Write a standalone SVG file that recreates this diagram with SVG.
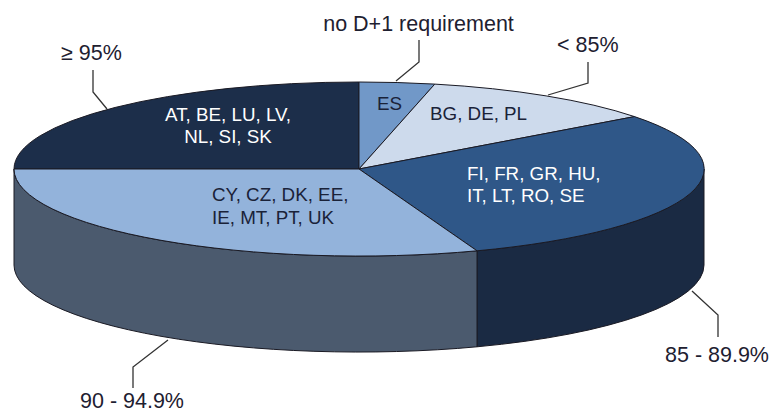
<svg xmlns="http://www.w3.org/2000/svg" width="774" height="414" viewBox="0 0 774 414">
<style>
.sl{stroke:#1a1a24;stroke-width:1;stroke-linejoin:round}
.lead{fill:none;stroke:#333;stroke-width:1.3}
.lbl{font-family:"Liberation Sans",Arial,sans-serif;font-size:21.5px;fill:#1e2030}
.in{font-family:"Liberation Sans",Arial,sans-serif;font-size:18.8px}
.dk{fill:#1a2238}
.wh{fill:#ffffff}
</style>
<rect width="774" height="414" fill="#ffffff"/>
<g id="sides">
<path class="sl" fill="#1a2a43" d="M704,169 A345,87 0 0 1 477,250.8 L477,346.8 A345,87 0 0 0 704,265 Z"/>
<path class="sl" fill="#4b5a6e" d="M477,250.8 A345,87 0 0 1 14,169 L14,265 A345,87 0 0 0 477,346.8 Z"/>
</g>
<g id="slice-at">
<path class="sl" fill="#1c2e4a" d="M359,169 L14,169 A345,87 0 0 1 359,82 Z"/>
<text class="in wh" x="228" y="121" text-anchor="middle">AT, BE, LU, LV,</text>
<text class="in wh" x="228" y="143" text-anchor="middle">NL, SI, SK</text>
</g>
<g id="slice-es">
<path class="sl" fill="#7198c8" d="M359,169 L359,82 A345,87 0 0 1 434.8,84.1 Z"/>
<text class="in dk" x="377" y="110">ES</text>
</g>
<g id="slice-bg">
<path class="sl" fill="#cddaec" d="M359,169 L434.8,84.1 A345,87 0 0 1 634.5,116.6 Z"/>
<text class="in dk" x="430" y="120">BG, DE, PL</text>
</g>
<g id="slice-fi">
<path class="sl" fill="#2f5788" d="M359,169 L634.5,116.6 A345,87 0 0 1 477,250.8 Z"/>
<text class="in wh" x="467" y="180">FI, FR, GR, HU,</text>
<text class="in wh" x="467" y="202">IT, LT, RO, SE</text>
</g>
<g id="slice-cy">
<path class="sl" fill="#93b3db" d="M359,169 L477,250.8 A345,87 0 0 1 14,169 Z"/>
<text class="in dk" x="212" y="201">CY, CZ, DK, EE,</text>
<text class="in dk" x="212" y="224">IE, MT, PT, UK</text>
</g>
<g id="connectors">
<polyline class="lead" points="93,70 93,92 107,109"/>
<polyline class="lead" points="419,40 419,62 396,81"/>
<polyline class="lead" points="588,62 588,83 548,95"/>
<polyline class="lead" points="692,291 718,315 718,337"/>
<polyline class="lead" points="168,340 133,367 133,388"/>
</g>
<g id="labels">
<text class="lbl" x="418.5" y="31" text-anchor="middle">no D+1 requirement</text>
<text class="lbl" x="61" y="60">≥ 95%</text>
<text class="lbl" x="557" y="52">&lt; 85%</text>
<text class="lbl" x="665" y="362">85 - 89.9%</text>
<text class="lbl" x="80" y="408">90 - 94.9%</text>
</g>
</svg>
